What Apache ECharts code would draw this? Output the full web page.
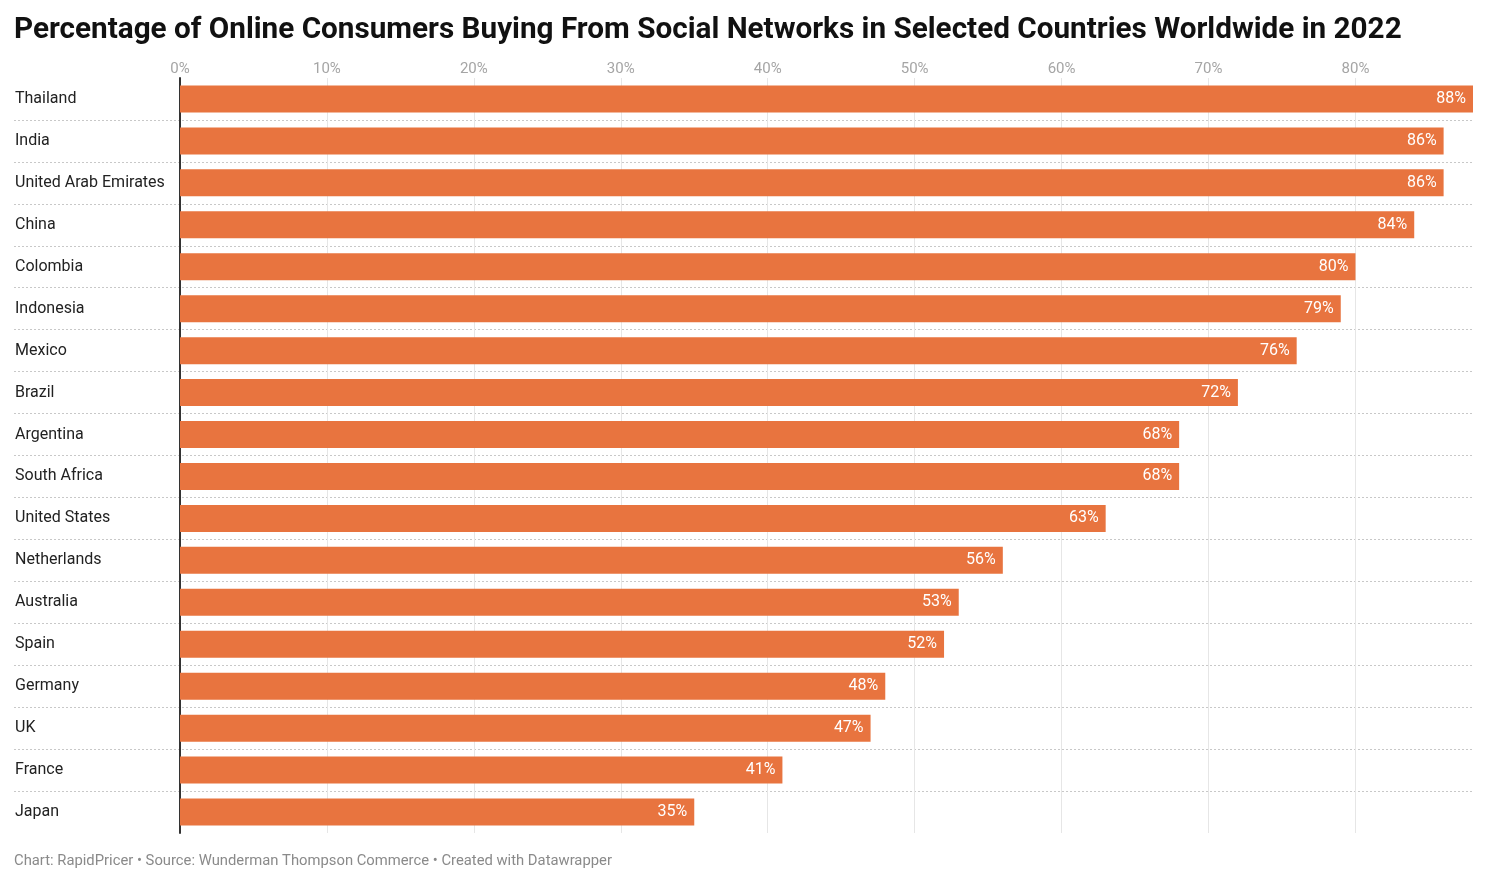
<!DOCTYPE html>
<html>
<head>
<meta charset="utf-8">
<script src="https://cdn.jsdelivr.net/npm/echarts@6/dist/echarts.min.js"></script>
<style>
  html, body { margin: 0; padding: 0; background: #fff; }
  #chart { width: 1488px; height: 883px; }
</style>
</head>
<body>
<div id="chart"></div>
<script>
const countries = [
  'Thailand', 'India', 'United Arab Emirates', 'China', 'Colombia', 'Indonesia',
  'Mexico', 'Brazil', 'Argentina', 'South Africa', 'United States', 'Netherlands',
  'Australia', 'Spain', 'Germany', 'UK', 'France', 'Japan'
];
const shares = [88, 86, 86, 84, 80, 79, 76, 72, 68, 68, 63, 56, 53, 52, 48, 47, 41, 35];
const axisMax = 88;

const FONT = 'Roboto, "Noto Sans", sans-serif';
const BAR = '#e8743f';

const chart = echarts.init(document.getElementById('chart'));

const option = {
  backgroundColor: '#fff',
  animation: false,
  title: [
    {
      text: 'Percentage of Online Consumers Buying From Social Networks in Selected Countries Worldwide in 2022',
      left: 14,
      top: 16,
      padding: 0,
      textStyle: { fontFamily: FONT, fontSize: 29.7, fontWeight: 'bold', color: '#111' }
    },
    {
      text: 'Chart: RapidPricer • Source: Wunderman Thompson Commerce • Created with Datawrapper',
      left: 14,
      top: 854,
      padding: 0,
      textStyle: { fontFamily: FONT, fontSize: 14.8, fontWeight: 'normal', color: '#8a8a8a' }
    }
  ],
  grid: [
    // row labels + dotted separators, full width
    { left: 14, right: 15, top: 78, height: 755 },
    // bars
    { left: 180, right: 15, top: 78, height: 755 }
  ],
  xAxis: [
    { gridIndex: 0, type: 'value', show: false, min: 0, max: 1 },
    {
      gridIndex: 1,
      type: 'value',
      position: 'top',
      min: 0,
      max: axisMax,
      interval: 10,
      axisLine: { show: false },
      axisTick: { show: false },
      axisLabel: {
        margin: 1,
        showMaxLabel: false,
        color: '#a5a5a5',
        fontSize: 15,
        fontFamily: FONT,
        formatter: '{value}%'
      },
      splitLine: { showMaxLine: false, lineStyle: { color: '#e6e6e6', width: 1 } }
    }
  ],
  yAxis: [
    {
      gridIndex: 0,
      type: 'category',
      inverse: true,
      data: countries,
      axisLine: { show: false },
      axisTick: { show: false },
      axisLabel: {
        inside: true,
        margin: 1,
        padding: [2, 0, 0, 0],
        color: '#222',
        fontSize: 16,
        fontFamily: FONT
      },
      splitLine: {
        show: true,
        showMinLine: false,
        showMaxLine: false,
        lineStyle: { color: '#c8c8c8', type: [2, 2], width: 1 }
      }
    },
    {
      gridIndex: 1,
      type: 'category',
      inverse: true,
      data: countries,
      axisLine: { show: true, lineStyle: { color: '#333', width: 2 } },
      axisTick: { show: false },
      axisLabel: { show: false }
    }
  ],
  series: [
    {
      type: 'bar',
      xAxisIndex: 1,
      yAxisIndex: 1,
      data: shares,
      barWidth: 27,
      itemStyle: { color: BAR },
      label: {
        show: true,
        position: 'insideRight',
        distance: 7,
        color: '#fff',
        fontSize: 16,
        fontFamily: FONT,
        formatter: '{c}%'
      }
    }
  ]
};

chart.setOption(option);
</script>
</body>
</html>
